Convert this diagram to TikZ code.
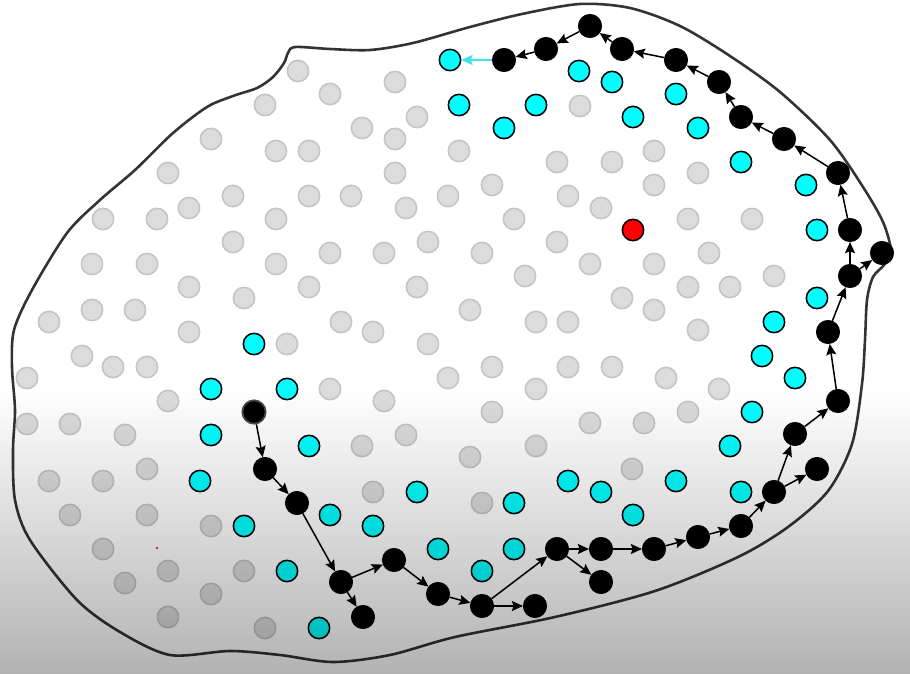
\documentclass[tikz,border=0pt]{standalone}
\usetikzlibrary{arrows.meta}
\definecolor{dotgray}{HTML}{DCDCDC}
\definecolor{dotedge}{HTML}{C4C4C4}
\definecolor{outl}{HTML}{333333}
\definecolor{cyanfill}{HTML}{00FFFF}
\definecolor{cyanarrow}{HTML}{3FE3EA}
\begin{document}
\begin{tikzpicture}[x=0.03cm,y=-0.03cm,
  gdot/.style={circle,fill=dotgray,draw=dotedge,line width=1.3pt,minimum size=0.64cm,inner sep=0pt},
  cdot/.style={circle,fill=cyanfill,draw=black,line width=1.3pt,minimum size=0.64cm,inner sep=0pt},
  bdot/.style={circle,fill=black,draw=black,line width=0.6pt,minimum size=0.70cm,inner sep=0pt},
  rdot/.style={circle,fill=red,draw=black,line width=1.3pt,minimum size=0.64cm,inner sep=0pt},
  arr/.style={-{Stealth[length=9.5pt,width=8.5pt,inset=1.5pt]},line width=1.3pt,black},
  blob/.style={draw=outl,line width=2.2pt}]
\useasboundingbox (0,0) rectangle (910,674);
\fill[white] (0,0) rectangle (910,674);
% outline
\draw[blob] plot[smooth cycle, tension=0.5] coordinates {
 (288,53) (295,47) (330,49) (370,50) (413,43) (470,27) (522,14) (580,4) (630,8)
 (680,26) (730,56) (780,92) (830,140) (863,187) (883,222) (891,251) (884,265)
 (873,277) (867,300) (865,340) (862,384) (852,444) (828,491) (788,527) (738,557)
 (655,591) (555,617) (455,637) (390,655) (333,662) (280,655) (230,651) (170,655)
 (120,632) (77,600) (30,540) (15,500) (13,450) (15,410) (12,367) (14,330)
 (32,290) (67,233) (100,200) (135,170) (173,133) (207,107) (233,96) (257,88)
 (273,77) (284,63)};
% gray dots
\foreach \p [count=\i] in {(298,71),(395,82),(330,94),(265,105),(417,117),(580,106),(362,128),(395,139),
 (211,139),(276,151),(309,151),(459,151),(654,151),(557,162),(612,162),(168,173),(395,173),(698,173),
 (492,185),(654,185),(233,196),(309,196),(351,196),(448,196),(568,196),(406,208),(189,208),(601,208),
 (103,219),(157,219),(276,219),(514,219),(688,219),(752,219),(233,242),(428,242),(557,242),(330,253),
 (384,253),(482,253),(709,253),(92,264),(147,264),(276,264),(590,264),(654,264),(525,276),(774,276),
 (189,287),(309,287),(417,287),(688,287),(730,287),(244,298),(622,298),(92,310),(135,310),(470,310),
 (654,310),(49,322),(341,322),(536,322),(568,322),(189,332),(373,332),(698,330),(287,344),(428,344),
 (82,356),(113,367),(147,367),(492,367),(568,367),(612,367),(27,378),(448,378),(666,378),(330,389),
 (536,389),(719,389),(168,401),(384,401),(27,424),(70,424),(125,435),(406,435),(492,412),(688,412),
 (590,423),(644,423),(362,446),(536,446),(470,457),(147,469),(632,469),(49,481),(103,481),(373,492),
 (482,503),(70,515),(147,515),(211,526),(103,549),(168,571),(244,571),(125,583),(211,594),(168,617),
 (265,628)}
 \node[gdot] (g\i) at \p {};
% cyan dots
\node[cdot] (c0) at (450,60) {};
\foreach \p [count=\i] in {(579,71),(612,82),(459,105),(536,105),(504,128),(633,117),(676,94),(698,128),
 (741,162),(806,185),(817,230),(817,298),(774,322),(762,356),(795,378),(752,412),(730,446),(741,492),
 (676,481),(568,481),(601,492),(633,515),(514,503),(514,549),(482,571),(254,344),(211,389),(287,389),
 (211,435),(309,446),(200,481),(330,515),(417,492),(373,526),(438,549),(244,526),(287,571),(319,628)}
 \node[cdot] (c\i) at \p {};
% red
\node[rdot] (r) at (633,230) {};
\fill[red!80!black] (157,548) circle (1.2);
% black path nodes
\node[bdot,draw=black!70,line width=1.5pt] (s) at (254,412) {};
\node[bdot] (b1) at (265,469) {};
\node[bdot] (b2) at (297,503) {};
\node[bdot] (b3) at (341,582) {};
\node[bdot] (b4) at (394,560) {};
\node[bdot] (b5) at (363,617) {};
\node[bdot] (b6) at (438,594) {};
\node[bdot] (b7) at (482,606) {};
\node[bdot] (b8) at (535,606) {};
\node[bdot] (b9) at (557,549) {};
\node[bdot] (b10) at (601,549) {};
\node[bdot] (b11) at (601,582) {};
\node[bdot] (b12) at (654,549) {};
\node[bdot] (b13) at (698,537) {};
\node[bdot] (b14) at (741,526) {};
\node[bdot] (b15) at (774,492) {};
\node[bdot] (b16) at (795,434) {};
\node[bdot] (b17) at (817,469) {};
\node[bdot] (b18) at (838,401) {};
\node[bdot] (b19) at (828,332) {};
\node[bdot] (b20) at (850,276) {};
\node[bdot] (b21) at (850,230) {};
\node[bdot] (b22) at (882,253) {};
\node[bdot] (b23) at (838,173) {};
\node[bdot] (b24) at (784,139) {};
\node[bdot] (b25) at (741,117) {};
\node[bdot] (b26) at (719,82) {};
\node[bdot] (b27) at (676,60) {};
\node[bdot] (b28) at (622,49) {};
\node[bdot] (b29) at (590,26) {};
\node[bdot] (b30) at (546,49) {};
\node[bdot] (b31) at (504,60) {};
% arrows
\foreach \a/\b in {s/b1,b1/b2,b2/b3,b3/b4,b3/b5,b4/b6,b6/b7,b7/b8,b7/b9,b9/b10,b9/b11,b10/b12,
 b12/b13,b13/b14,b14/b15,b15/b16,b15/b17,b16/b18,b18/b19,b19/b20,b20/b21,b20/b22,b21/b23,b23/b24,
 b24/b25,b25/b26,b26/b27,b27/b28,b28/b29,b29/b30,b30/b31}
 \draw[arr] (\a) -- (\b);
\draw[arr,draw=cyanarrow,fill=cyanarrow] (b31) -- (c0);
% bottom shading overlay (multiply)
\begin{scope}[blend mode=multiply]
\shade[top color=white, bottom color=black!30!white] (0,390) rectangle (910,674);
\end{scope}
\end{tikzpicture}
\end{document}
